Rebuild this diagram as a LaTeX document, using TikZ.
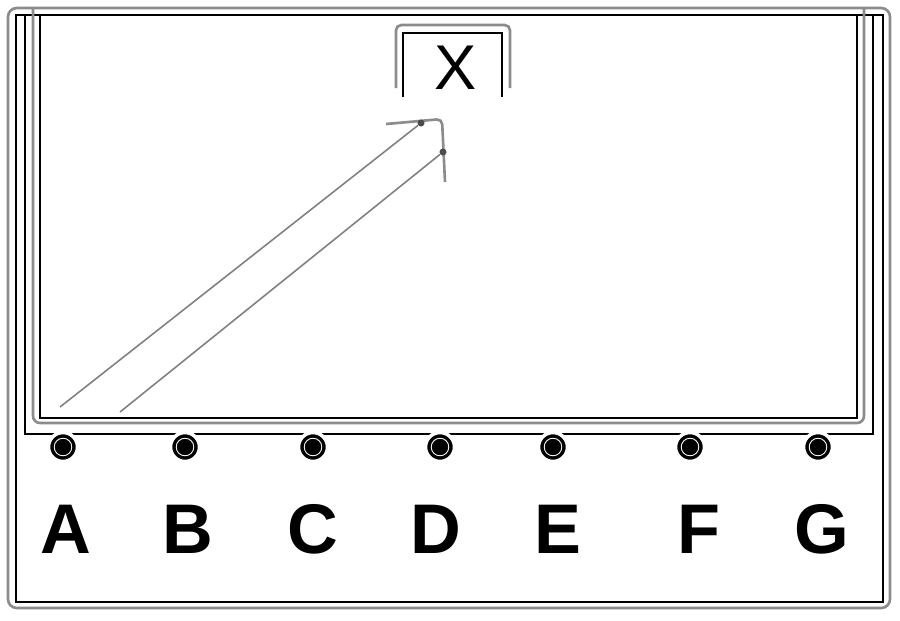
\documentclass[tikz,border=0pt]{standalone}
\usepackage{fontspec}
\setmainfont{Liberation Sans}
\begin{document}
\begin{tikzpicture}[x=0.02cm,y=-0.02cm]
\tikzset{
% gray double lines of the housing and thin black inner lines
frame line/.style={draw=black!45,line width=1.5pt},
thin line/.style={draw=black,line width=0.7pt},
diag line/.style={draw=black!50,line width=0.9pt},
knob/.style={circle,fill=black,draw=white,line width=2pt,inner sep=0,minimum size=0.58cm},
key label/.style={font=\fontsize{40}{40}\selectfont\bfseries},
end dot/.style={circle,fill=black!70,inner sep=0,minimum size=4pt}
}
\useasboundingbox (0,0) rectangle (900,620);

% Housing
\draw[frame line,rounded corners=5] (8,8) rectangle (890,608);
\draw[thin line] (16,15) rectangle (883,602);
\draw[thin line] (25,15) -- (25,434) -- (873,434) -- (873,15);
% Screen
\draw[frame line,rounded corners=4] (33,8) -- (33,423) -- (864,423) -- (864,8);
\draw[thin line] (40,15) rectangle (857,418);

% Target box
\draw[frame line,rounded corners=3] (396,88) -- (396,25) -- (510,25) -- (510,88);
\draw[thin line] (403,97) -- (403,33) -- (502,33) -- (502,97);
\node[font=\fontsize{36}{36}\selectfont] (target) at (456,68) {X};

% Corner mark and the two diagonals
\coordinate (cornerL) at (386,124);
\coordinate (corner) at (442,119);
\coordinate (cornerB) at (445,182);
\draw[frame line,rounded corners=3] (cornerL) -- (corner) -- (cornerB);
\coordinate (tailA) at (60,407);
\coordinate (tailB) at (120,412);
\node[end dot] (headA) at (421,123) {};
\node[end dot] (headB) at (443,152) {};
\draw[diag line] (tailA) -- (headA);
\draw[diag line] (tailB) -- (headB);

% Knobs and keys
\foreach \k/\x/\lx in {A/63/66,B/185/188,C/313/313,D/440/436,E/553/558,F/690/699,G/818/822}{
  \node[knob] (knob\k) at (\x,447) {};
  \draw[white,line width=0.5pt] (knob\k) circle (5pt);
  \node[key label] (key\k) at (\lx,529) {\k};
}
\end{tikzpicture}
\end{document}
